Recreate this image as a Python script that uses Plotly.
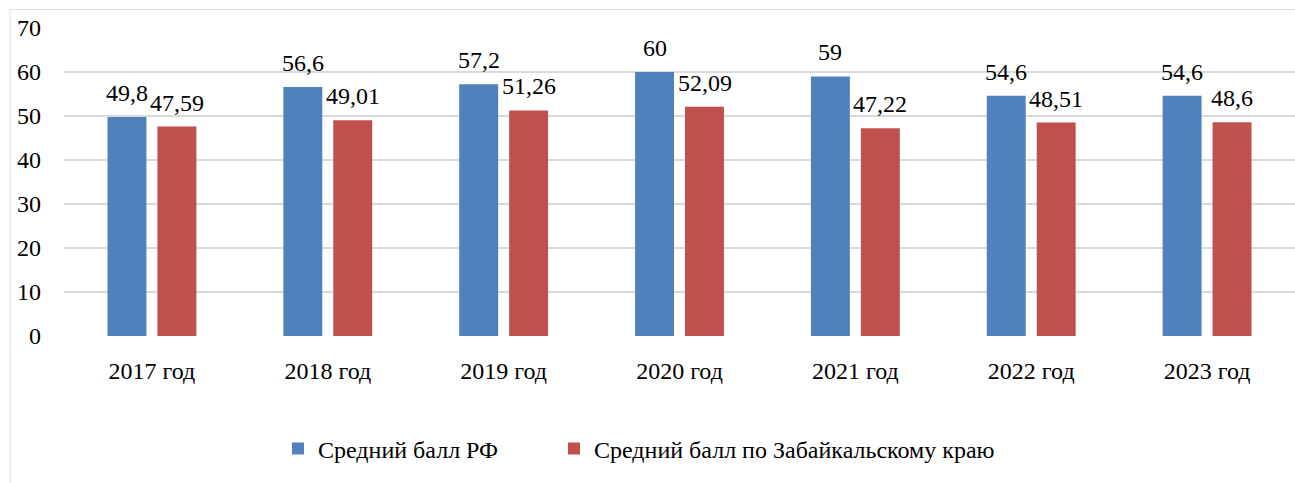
import plotly.graph_objects as go

# Средний балл ЕГЭ по годам
years = ["2017 год", "2018 год", "2019 год", "2020 год", "2021 год", "2022 год", "2023 год"]
rf_scores = [49.8, 56.6, 57.2, 60, 59, 54.6, 54.6]
zab_scores = [47.59, 49.01, 51.26, 52.09, 47.22, 48.51, 48.6]
y_ticks = [0, 10, 20, 30, 40, 50, 60, 70]

series_names = ["Средний балл РФ", "Средний балл по Забайкальскому краю"]
colors = ["#4F81BD", "#C0504D"]
FONT = "Liberation Serif"


def fmt(v):
    s = f"{v:.2f}".rstrip("0").rstrip(".")
    return s.replace(".", ",")


W, H = 1295, 483
ML, MR, MT, MB = 64, 0, 28, 147
PW, PH = W - ML - MR, H - MT - MB

px = lambda p: (p - ML) / PW
py = lambda p: (H - MB - p) / PH

fig = go.Figure()
for i, (name, vals, col) in enumerate(zip(series_names, [rf_scores, zab_scores], colors)):
    fig.add_trace(go.Bar(
        x=years, y=vals, name=name,
        marker=dict(color=col, line=dict(width=0)),
        legend="legend" if i == 0 else "legend2",
    ))

# value labels above each bar
annotations = []
for vals, shift in [(rf_scores, -25), (zab_scores, 25)]:
    for yr, v in zip(years, vals):
        annotations.append(dict(
            x=yr, y=v, xref="x", yref="y", text=fmt(v), showarrow=False,
            xshift=shift, yanchor="bottom", yshift=9,
            font=dict(family=FONT, size=24, color="#000000"),
        ))

# light outer frame of the chart area
shapes = [dict(
    type="rect", xref="paper", yref="paper",
    x0=px(10), x1=px(1310), y0=py(500), y1=py(9.5),
    line=dict(color="#D9D9D9", width=1), fillcolor="rgba(0,0,0,0)", layer="below",
)]

legend_common = dict(
    orientation="h", xanchor="left", y=py(449), yanchor="middle",
    font=dict(family=FONT, size=24, color="#000000"),
    itemwidth=30, bgcolor="rgba(0,0,0,0)",
)

fig.update_layout(
    width=W, height=H,
    margin=dict(l=ML, r=MR, t=MT, b=MB, pad=0),
    paper_bgcolor="white", plot_bgcolor="white",
    barmode="group", bargap=0.432, bargroupgap=0.22,
    font=dict(family=FONT, size=24, color="#000000"),
    showlegend=True,
    legend=dict(x=px(278), **legend_common),
    legend2=dict(x=px(554), **legend_common),
    annotations=annotations,
    shapes=shapes,
    xaxis=dict(
        showgrid=False, showline=False, zeroline=False, ticks="",
        ticklabelstandoff=18, tickfont=dict(family=FONT, size=24),
    ),
    yaxis=dict(
        range=[0, 70], tickvals=y_ticks, showgrid=True, gridcolor="#D9D9D9", gridwidth=1.5,
        zeroline=False, showline=False, ticks="", ticklabelstandoff=22,
        tickfont=dict(family=FONT, size=24),
    ),
)

fig.write_html("out.html")
